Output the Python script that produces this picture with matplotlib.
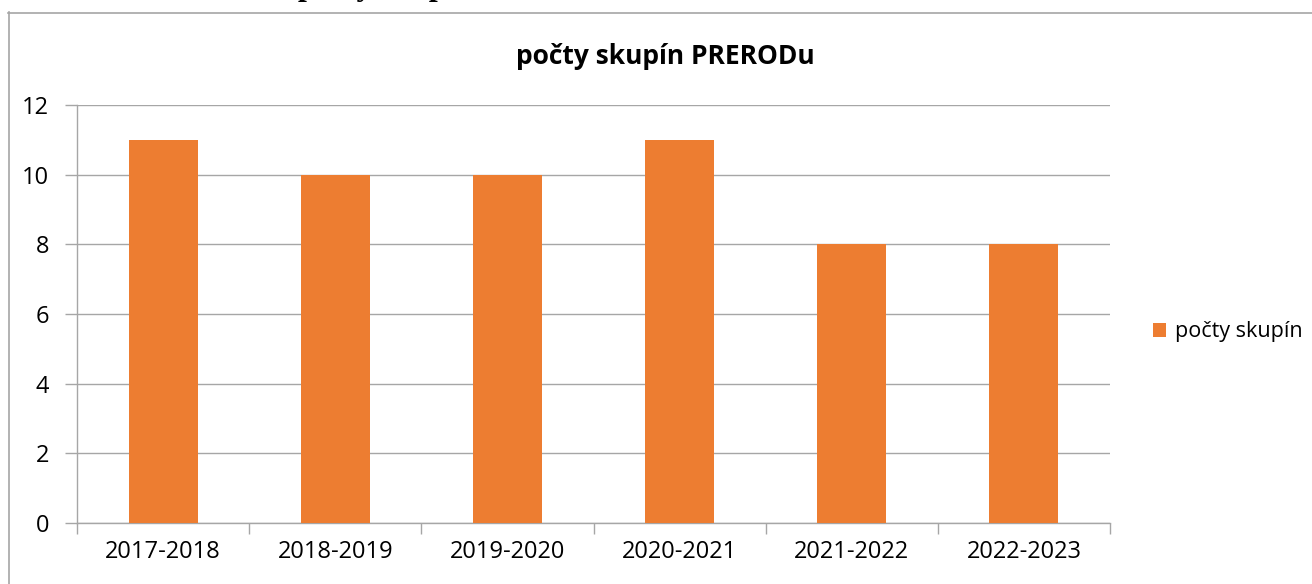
import matplotlib
matplotlib.use("Agg")
import matplotlib.pyplot as plt
from matplotlib.lines import Line2D
from matplotlib.patches import Patch

categories = ["2017-2018", "2018-2019", "2019-2020", "2020-2021", "2021-2022", "2022-2023"]
values = [11, 10, 10, 11, 8, 8]
series_name = "počty skupín"
title = "počty skupín PRERODu"
yticks = [0, 2, 4, 6, 8, 10, 12]

W, H = 1312, 584
fig = plt.figure(figsize=(W / 100, H / 100), dpi=100)
plt.rcParams['font.family'] = ['Open Sans', 'DejaVu Sans']

def fx(px):
    return px / W

def fy(py):
    return 1 - py / H

# Cut-off heading above the chart frame (only descenders visible)
fig.text(fx(298), fy(-5.5), "počty skupín PRERODu", fontsize=23, fontweight='bold',
         family=['Liberation Serif', 'DejaVu Serif'], ha='left', va='baseline', color='black')

# Chart frame (left & top edges visible)
fig.add_artist(Line2D([fx(8.5), fx(8.5)], [fy(12), 0], color='#A6A6A6', lw=1.2, transform=fig.transFigure))
fig.add_artist(Line2D([fx(8), 1], [fy(12.5), fy(12.5)], color='#A6A6A6', lw=1.2, transform=fig.transFigure))

left, right, top, bottom = 77, 1110, 105, 523
ax = fig.add_axes([fx(left), fy(bottom), fx(right - left), (bottom - top) / H])

x = list(range(len(categories)))
ax.bar(x, values, width=0.4, color='#ED7D31', zorder=3)
ax.set_xlim(-0.5, len(categories) - 0.5)
ax.set_ylim(0, 12)
ax.set_yticks(yticks)
ax.set_yticklabels([str(v) for v in yticks], fontsize=17)
ax.yaxis.grid(True, color='#A6A6A6', lw=1, zorder=0)
ax.set_axisbelow(True)

ax.set_xticks(x)
ax.set_xticklabels(categories, fontsize=17)
ax.tick_params(axis='x', which='major', length=0, pad=12)
ax.set_xticks([i - 0.5 for i in range(len(categories) + 1)], minor=True)
ax.tick_params(axis='x', which='minor', length=8, color='#A6A6A6', width=1, direction='out')
ax.tick_params(axis='y', length=9, color='#A6A6A6', width=1, pad=11)

for s in ['top', 'right']:
    ax.spines[s].set_visible(False)
for s in ['left', 'bottom']:
    ax.spines[s].set_color('#A6A6A6')
    ax.spines[s].set_linewidth(1)

fig.text(fx(665), fy(57), title, fontsize=19, fontweight='bold', ha='center', va='center')

handle = Patch(facecolor='#ED7D31', edgecolor='none')
fig.legend([handle], [series_name], loc='center left', bbox_to_anchor=(fx(1153), fy(332)),
           frameon=False, fontsize=15.5, handlelength=0.6, handleheight=0.6, handletextpad=0.4,
           borderpad=0, borderaxespad=0)

fig.savefig("out.png", dpi=100, facecolor='white')
